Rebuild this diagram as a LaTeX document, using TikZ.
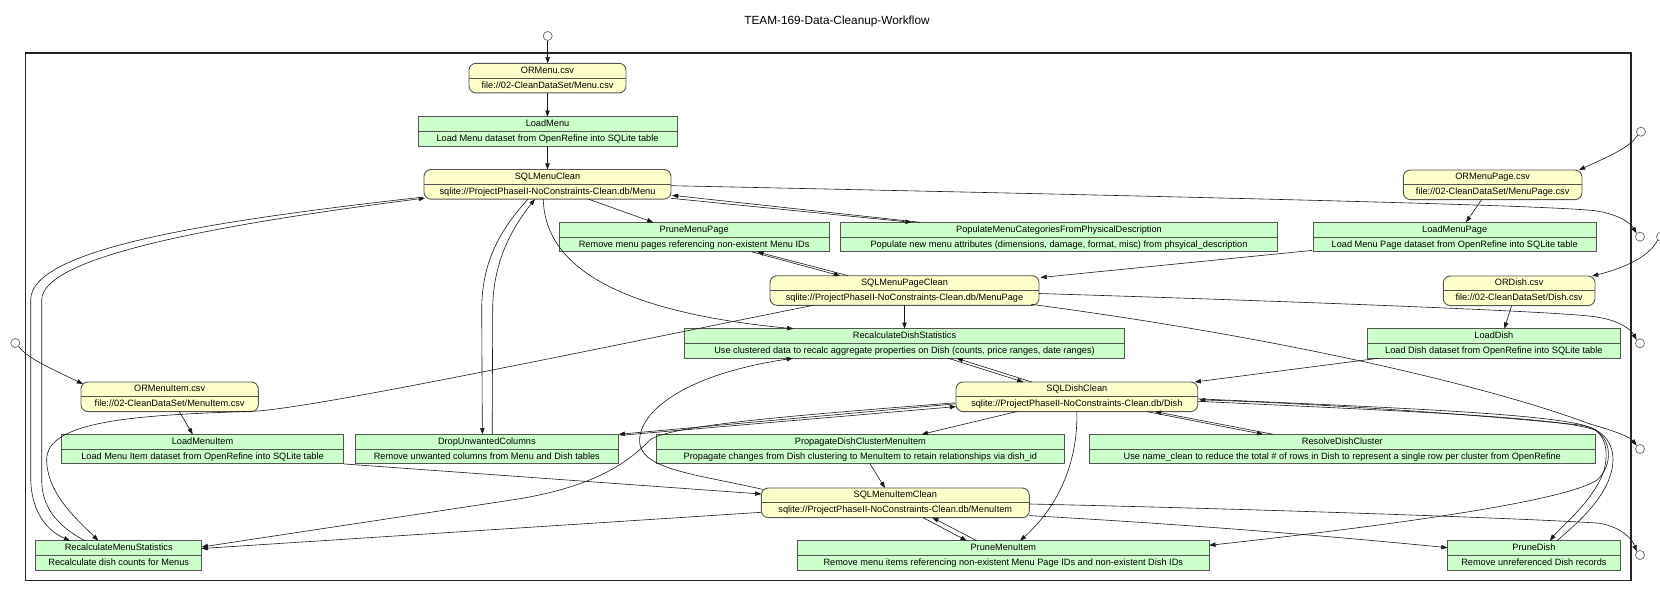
\documentclass[tikz,border=0pt]{standalone}
\usepackage{fontspec}
\setmainfont{Liberation Sans}
\usetikzlibrary{arrows.meta,calc}
\definecolor{yfill}{HTML}{FFFFCC}
\definecolor{gfill}{HTML}{CCFFCC}
\definecolor{bline}{HTML}{555555}
\tikzset{
  boxbase/.style={draw=bline, line width=0.9pt, minimum height=29.6pt, inner sep=0pt, outer sep=0pt},
  greenbox/.style={boxbase, fill=gfill},
  yellowbox/.style={boxbase, fill=yfill, rounded corners=7pt},
  lbl/.style={inner sep=0pt, font=\fontsize{9.2}{11}\selectfont, text height=6.7pt, text depth=1.9pt},
  conn/.style={draw=black!90, line width=0.6pt, -{Triangle[length=6.2pt,width=4.4pt]}},
  portcircle/.style={circle, draw=black!60, fill=white, line width=0.7pt, minimum size=9pt, inner sep=0pt},
  outerframe/.style={draw=black!85, line width=1.6pt},
}
\newcommand\mkbox[7]{%
  \node[#1, minimum width={(#4)-(#3)}] (#2) at ({((#3)+(#4))/2},{(#5)+14.8}) {};
  \draw[draw=bline, line width=0.8pt] (#2.west) -- (#2.east);
  \node[lbl] at ([yshift=7.3pt]#2.center) {#6};
  \node[lbl] at ([yshift=-7.5pt]#2.center) {#7};
}
\begin{document}
\begin{tikzpicture}[x=1pt,y=-1pt]
\useasboundingbox (0,0) rectangle (1660,597);
\node[font=\fontsize{11.8}{14}\selectfont, inner sep=0pt] (title) at (837,21) {TEAM-169-Data-Cleanup-Workflow};
\draw[outerframe] (25.3,52.7) rectangle (1630.7,580.3);

% ports
\node[portcircle] (inMenu) at (547.7,36) {};
\node[portcircle] (inMP) at (1641,131.7) {};
\node[portcircle] (inDish) at (1661,236.7) {};
\node[portcircle] (inMI) at (15.3,343) {};
\node[portcircle] (outMenu) at (1640,236.7) {};
\node[portcircle] (outMP) at (1640,343.3) {};
\node[portcircle] (outDish) at (1640,449) {};
\node[portcircle] (outMI) at (1640,555) {};

% boxes
\mkbox{yellowbox}{ormenu}{469}{626}{63.3}{ORMenu.csv}{file://02-CleanDataSet/Menu.csv}
\mkbox{greenbox}{loadmenu}{418}{677}{116.7}{LoadMenu}{Load Menu dataset from OpenRefine into SQLite table}
\mkbox{yellowbox}{sqlmenu}{424}{671}{169.5}{SQLMenuClean}{sqlite://ProjectPhaseII-NoConstraints-Clean.db/Menu}
\mkbox{greenbox}{prunemp}{559.3}{829}{222.3}{PruneMenuPage}{Remove menu pages referencing non-existent Menu IDs}
\mkbox{greenbox}{populate}{840.3}{1277.7}{222.3}{PopulateMenuCategoriesFromPhysicalDescription}{Populate new menu attributes (dimensions, damage, format, misc) from phsyical\_description}
\mkbox{yellowbox}{ormp}{1403.3}{1582}{170}{ORMenuPage.csv}{file://02-CleanDataSet/MenuPage.csv}
\mkbox{greenbox}{loadmp}{1313.3}{1596}{222.3}{LoadMenuPage}{Load Menu Page dataset from OpenRefine into SQLite table}
\mkbox{yellowbox}{sqlmp}{770}{1039}{275.7}{SQLMenuPageClean}{sqlite://ProjectPhaseII-NoConstraints-Clean.db/MenuPage}
\mkbox{yellowbox}{ordish}{1443.3}{1595}{276}{ORDish.csv}{file://02-CleanDataSet/Dish.csv}
\mkbox{greenbox}{recdish}{684.7}{1124.3}{328.7}{RecalculateDishStatistics}{Use clustered data to recalc aggregate properties on Dish (counts, price ranges, date ranges)}
\mkbox{greenbox}{loaddish}{1367.7}{1620}{328.7}{LoadDish}{Load Dish dataset from OpenRefine into SQLite table}
\mkbox{yellowbox}{ormi}{81}{258.3}{382}{ORMenuItem.csv}{file://02-CleanDataSet/MenuItem.csv}
\mkbox{yellowbox}{sqldish}{956}{1197.7}{382}{SQLDishClean}{sqlite://ProjectPhaseII-NoConstraints-Clean.db/Dish}
\mkbox{greenbox}{loadmi}{61.7}{343.3}{434.3}{LoadMenuItem}{Load Menu Item dataset from OpenRefine into SQLite table}
\mkbox{greenbox}{drop}{355}{618.7}{434.3}{DropUnwantedColumns}{Remove unwanted columns from Menu and Dish tables}
\mkbox{greenbox}{propagate}{656}{1064.7}{434.3}{PropagateDishClusterMenuItem}{Propagate changes from Dish clustering to MenuItem to retain relationships via dish\_id}
\mkbox{greenbox}{resolve}{1089.3}{1595.3}{434.3}{ResolveDishCluster}{Use name\_clean to reduce the total \# of rows in Dish to represent a single row per cluster from OpenRefine}
\mkbox{yellowbox}{sqlmi}{761.3}{1029.3}{488}{SQLMenuItemClean}{sqlite://ProjectPhaseII-NoConstraints-Clean.db/MenuItem}
\mkbox{greenbox}{recmenu}{35.7}{201.7}{540.7}{RecalculateMenuStatistics}{Recalculate dish counts for Menus}
\mkbox{greenbox}{prunemi}{797.3}{1209.3}{540.7}{PruneMenuItem}{Remove menu items referencing non-existent Menu Page IDs and non-existent Dish IDs}
\mkbox{greenbox}{prunedish}{1447.5}{1620.3}{540.7}{PruneDish}{Remove unreferenced Dish records}

% input ports
\draw[conn] (inMenu.south) -- (inMenu.south |- ormenu.north);
\draw[conn] (inMP.south west) .. controls (1630,148) and (1605,158) .. ($(ormp.north east)+(-3,0)$);
\draw[conn] (inDish.south west) .. controls (1650,256) and (1625,268) .. ($(ordish.north east)+(-3,0)$);
\draw[conn] (inMI.south east) .. controls (27,358) and (50,368) .. ($(ormi.north west)+(2,2)$);

% loaders
\draw[conn] (ormenu.south) -- (loadmenu.north);
\draw[conn] (loadmenu.south) -- (sqlmenu.north);
\draw[conn] ($(ormp.south)+(-11,0)$) -- ($(loadmp.north)+(11.35,0)$);
\draw[conn] ($(loadmp.south west)+(-1,-1.5)$) -- ($(sqlmp.north east)+(1.5,1.8)$);
\draw[conn] ($(ordish.south)+(-7.5,0)$) -- ($(loaddish.north)+(10.5,0)$);
\draw[conn] ($(loaddish.south west)+(10.6,0)$) -- ($(sqldish.north east)+(-3,0)$);
\draw[conn] ($(ormi.south)+(9.65,0)$) -- ($(loadmi.north)+(-9.8,0)$);
\draw[conn] (loadmi.south east) -- ($(sqlmi.west)+(0,-8.8)$);

% SQLMenuClean
\draw[conn] ($(sqlmenu.south)+(40.8,0)$) -- ($(prunemp.north)+(-40.85,0)$);
\draw[conn] ($(sqlmenu.south east)+(0,-0.8)$) -- ($(populate.north)+(-147.3,0)$);
\draw[conn] ($(populate.north)+(-139,0)$) -- ($(sqlmenu.south east)+(1,-3.8)$);
\draw[conn] ($(sqlmenu.south)+(-4.2,0)$) .. controls (545,280) and (650,315) .. ($(recdish.north)+(-111.2,0)$);
\draw[conn] ($(sqlmenu.south)+(-19.5,0)$) .. controls (500,230) and (481.7,262) .. (481.7,310) -- ($(drop.north)+(-4.5,0)$);
\draw[conn] ($(drop.north)+(5.35,0)$) -- (492.7,310) .. controls (492.7,262) and (512,228) .. ($(sqlmenu.south)+(-12.5,0)$);
\draw[conn] ($(sqlmenu.south west)+(-1,-2)$) .. controls (200,222) and (30.7,250) .. (30.7,300) -- (30.7,477) .. controls (30.7,515) and (50,532) .. ($(recmenu.north)+(-48.7,0)$);
\draw[conn] ($(recmenu.north)+(-33.7,0)$) .. controls (55,525) and (41.7,505) .. (41.7,480) -- (41.7,300) .. controls (41.7,258) and (205,226) .. ($(sqlmenu.south west)+(1,-1)$);
\draw[conn] ($(sqlmenu.east)+(0,1.4)$) .. controls (1300,199) and (1560,206) .. (1597,211) .. controls (1621,215) and (1631,224) .. (outMenu.north west);

% SQLMenuPageClean
\draw[conn] ($(sqlmp.north)+(-56.2,0)$) -- ($(prunemp.south)+(63.15,0)$);
\draw[conn] ($(prunemp.south)+(57.85,0)$) -- ($(sqlmp.north)+(-64.5,0)$);
\draw[conn] (sqlmp.south) -- (recdish.north);
\draw[conn] ($(sqlmp.south west)+(43.3,0)$) .. controls (600,348) and (330,405) .. (258,411) .. controls (150,415) and (46,418) .. (46.7,460) .. controls (47,495) and (80,522) .. ($(recmenu.north)+(-20.4,0)$);
\draw[conn] ($(sqlmp.east)+(0,3)$) .. controls (1250,300) and (1560,311) .. (1597,317) .. controls (1621,321) and (1631,330) .. (outMP.north west);
\draw[conn] ($(sqlmp.south east)+(-8,-1)$) .. controls (1300,340) and (1500,390) .. (1590,424) .. controls (1615,431) and (1630,437) .. (outDish.north west);

% SQLDishClean
\draw[conn] ($(sqldish.north)+(-45.15,0)$) -- ($(recdish.south)+(52.2,0)$);
\draw[conn] ($(recdish.south)+(43.8,0)$) -- ($(sqldish.north)+(-53.5,0)$);
\draw[conn] ($(sqldish.south)+(-60.15,0)$) -- ($(propagate.north)+(61.35,0)$);
\draw[conn] ($(sqldish.south)+(69.85,0)$) -- ($(resolve.north)+(-79.2,0)$);
\draw[conn] ($(resolve.north)+(-69.2,0)$) -- ($(sqldish.south)+(78.15,0)$);
\draw[conn] ($(sqldish.west)+(0,7)$) -- (drop.north east);
\draw[conn] ($(drop.north east)+(2,1)$) -- ($(sqldish.west)+(0,9.8)$);
\draw[conn] ($(sqldish.west)+(-1,6)$) .. controls (800,415) and (670,425) .. (650,440) .. controls (630,460) and (600,485) .. (520,498.7) .. controls (400,517) and (280,535) .. ($(recmenu.east)+(0,-8.5)$);
\draw[conn] (sqldish.south) .. controls (1078,460) and (1060,505) .. ($(prunemi.north)+(16.7,0)$);
\draw[conn] ($(sqldish.east)+(0,2)$) .. controls (1400,408) and (1560,414) .. (1592,428) .. controls (1613,438) and (1613,466) .. (1597,480) .. controls (1560,505) and (1330,532) .. ($(prunemi.north east)+(0,4.6)$);
\draw[conn] ($(sqldish.east)+(0,4.5)$) .. controls (1400,411) and (1560,417) .. (1595,430) .. controls (1610,440) and (1608,465) .. (1600,480) .. controls (1588,505) and (1560,528) .. ($(prunedish.north)+(16,0)$);
\draw[conn] ($(prunedish.north)+(23,0)$) .. controls (1575,525) and (1612,495) .. (1613,460) .. controls (1613,440) and (1600,428) .. (1580,425) .. controls (1450,412) and (1300,403) .. ($(sqldish.east)+(1.5,3)$);

% Propagate
\draw[conn] ($(propagate.south)+(9.65,0)$) -- ($(sqlmi.north)+(-10.3,0)$);

% SQLMenuItemClean
\draw[conn] ($(sqlmi.north west)+(2,1.5)$) .. controls (700,475) and (645,470) .. (640,445) .. controls (635,415) and (680,375) .. ($(recdish.south)+(-111.6,0)$);
\draw[conn] ($(sqlmi.west)+(0,9.5)$) -- ($(recmenu.east)+(0,-7)$);
\draw[conn] ($(sqlmi.south)+(27.7,0)$) -- ($(prunemi.north)+(-36.6,0)$);
\draw[conn] ($(prunemi.north)+(-26.6,0)$) -- ($(sqlmi.south)+(37,0)$);
\draw[conn] ($(sqlmi.south east)+(-0.3,-2)$) .. controls (1200,525) and (1350,538) .. ($(prunedish.west)+(0,-7.8)$);
\draw[conn] ($(sqlmi.east)+(0,1.2)$) .. controls (1300,510) and (1560,520) .. (1600,523.3) .. controls (1620,527) and (1632,538) .. (outMI.north west);
\end{tikzpicture}
\end{document}
